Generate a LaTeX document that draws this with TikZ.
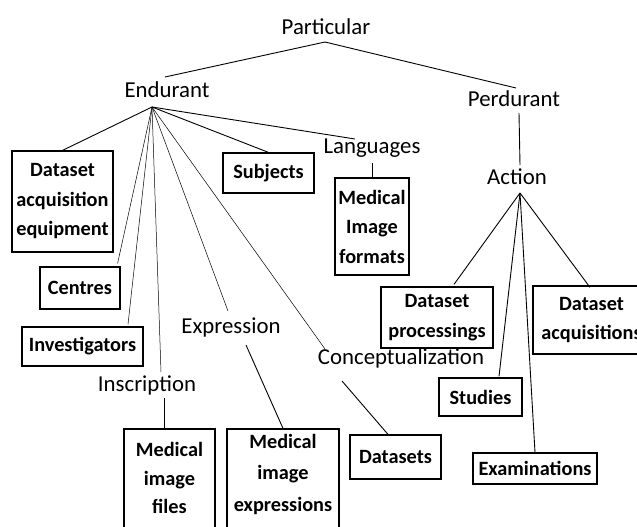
\documentclass[tikz,border=0pt]{standalone}
\usepackage{fontspec}
\setmainfont{Carlito}
\usetikzlibrary{calc}
\begin{document}
\begin{tikzpicture}[x=1pt,y=-1pt,
  lbl/.style={inner sep=0pt, font=\fontsize{22.8}{27}\selectfont},
  bx/.style={draw, line width=1.2pt, inner sep=0pt, align=center, font=\bfseries\fontsize{20.3}{29.5}\selectfont},
  bxt/.style={inner sep=0pt, align=center, font=\bfseries\fontsize{20.3}{29.5}\selectfont},
  ln/.style={line width=0.9pt},
  hair/.style={line width=0.5pt}]
\useasboundingbox (0,0) rectangle (637,527);
\clip (0,0) rectangle (637,527);

% labels
\node[lbl] (part) at (326,27) {Particular};
\node[lbl] (end) at (167,90) {Endurant};
\node[lbl] (perd) at (514,99) {Perdurant};
\node[lbl] (act) at (517,177) {Action};
\node[lbl] (lang) at (372,148) {Languages};
\node[lbl] (insc) at (147,385) {Inscription};
\node[lbl] (expr) at (231,327) {Expression};
\node[lbl] (conc) at (401,358) {Conceptualization};

% hubs
\coordinate (ph) at (325,42);
\coordinate (eh) at (152,107);
\coordinate (ah) at (520,193);

% boxes
\node[bx, minimum width=101pt, minimum height=101pt] (dae) at (62.5,201.5) {Dataset\\acquisition\\equipment};
\node[bx, minimum width=91pt, minimum height=40pt] (subj) at (268.5,173) {Subjects};
\node[bx, minimum width=74pt, minimum height=97pt] (mif) at (372,226.5) {Medical\\Image\\formats};
\node[bx, minimum width=80pt, minimum height=42pt] (cen) at (80,288) {Centres};
\node[bx, minimum width=121pt, minimum height=39pt] (inv) at (82.5,346.5) {Investigators};
\node[bx, minimum width=91pt, minimum height=116pt] (mfl) at (169.5,487) {};
\node[bxt, font=\bfseries\fontsize{20.3}{28.5}\selectfont] (mflt) at (169.5,478) {Medical\\image\\files};
\node[bx, minimum width=112pt, minimum height=116pt] (mie) at (283,487) {};
\node[bxt, font=\bfseries\fontsize{20.3}{31.5}\selectfont] (miet) at (283,474) {Medical\\image\\expressions};
\node[bx, minimum width=91pt, minimum height=44pt] (ds) at (395.5,457) {Datasets};
\node[bx, minimum width=112pt, minimum height=61pt] (dp) at (437,317.5) {Dataset\\processings};
\node[bx, minimum width=117pt, minimum height=68pt] (dacq) at (591.5,320) {Dataset\\acquisitions};
\node[bx, minimum width=83pt, minimum height=38pt] (stud) at (480.5,397) {Studies};
\node[bx, minimum width=124pt, minimum height=31pt] (exam) at (535,468.5) {Examinations};

% connectors
\draw[ln] (ph) -- ($(end)+(-2,-13)$);
\draw[ln] (ph) -- ($(perd)+(2,-11)$);

\draw[ln] (eh) -- (dae.north);
\draw[ln] (eh) -- (subj.north);
\draw[ln] (eh) -- ($(lang)+(-17,-9)$);
\draw[hair] (eh) -- ($(cen.north east)+(-3,-3)$);
\draw[hair] (eh) -- ($(inv.north)+(45.5,-2)$);
\draw[hair] (eh) -- ($(insc)+(14,-13)$);
\draw[hair] (eh) -- ($(expr)+(-3,-16)$);
\draw[hair] (eh) -- ($(conc)+(-76,-9)$);

\draw[ln] ($(lang)+(0,15)$) -- (mif.north);
\draw[ln] ($(insc)+(17,13)$) -- ($(mfl.north)+(-5.5,0)$);
\draw[ln] ($(expr)+(15,18)$) -- (mie.north);
\draw[ln] ($(conc)+(-59,23)$) -- ($(ds.north)+(-7.5,0)$);

\draw[ln] ($(perd)+(5,14)$) -- ($(act)+(3,-12)$);
\draw[ln] (ah) -- ($(dp.north)+(17,-2)$);
\draw[ln] (ah) -- ($(stud.north)+(18.5,-1)$);
\draw[ln] (ah) -- (exam.north);
\draw[ln] (ah) -- ($(dacq.north)+(-1.5,2)$);
\end{tikzpicture}
\end{document}
